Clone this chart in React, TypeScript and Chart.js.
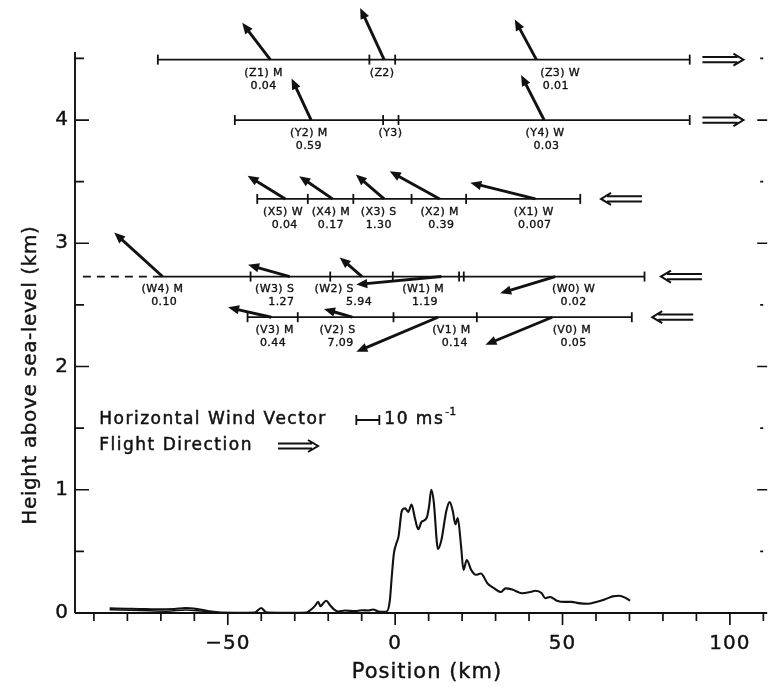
import React, { useEffect, useRef } from 'react';
import { Chart, registerables } from 'chart.js';

Chart.register(...registerables);

const W = 774;
const H = 689;
const FONT = '"DejaVu Sans", "Liberation Sans", sans-serif';
const INK = '#111';

// ---- axes ----
const xMin = -95.65;
const xMax = 111.15;
const yMin = 0;
const yMax = 4.552;
const xTickLabels = [-50, 0, 50, 100];
const xMinorTicks = [-90, -80, -70, -60, -50, -40, -30, -20, -10, 0, 10, 20, 30, 40, 50, 60, 70, 80, 90, 100, 110];
const yTickLabels = [0, 1, 2, 3, 4];
const yMinorTicks = [0.5, 1, 1.5, 2, 2.5, 3, 3.5, 4, 4.5];
const xTitle = 'Position (km)';
const yTitle = 'Height above sea-level (km)';

// ---- terrain profile (km, km) ----
const terrainProfile: [number, number][] = [
  [-85.3, 0.038], [-80, 0.035], [-76.4, 0.033], [-71.5, 0.03], [-66, 0.033], [-62.6, 0.04],
  [-58.7, 0.03], [-54.8, 0.012], [-51.9, 0.003], [-48, 0.002], [-42, 0.004], [-40, 0.04],
  [-38.5, 0.005], [-35, 0.002], [-30, 0.002], [-26.5, 0.004], [-25, 0.03], [-23.9, 0.06],
  [-23, 0.09], [-22.3, 0.055], [-21.9, 0.065], [-20.6, 0.1], [-19.5, 0.065], [-18.3, 0.03],
  [-17, 0.012], [-15, 0.02], [-12, 0.015], [-10, 0.022], [-8, 0.02], [-6.6, 0.028], [-5, 0.012],
  [-3.3, 0.01], [-2.5, 0.012], [-1.6, 0.1], [-1.0, 0.3], [-0.4, 0.48], [0.3, 0.56], [1.0, 0.62],
  [2.0, 0.83], [2.96, 0.85], [3.9, 0.82], [4.9, 0.88], [5.9, 0.77], [6.9, 0.68], [7.9, 0.74],
  [9.4, 0.77], [10.1, 0.86], [10.8, 1.0], [11.5, 0.91], [12.8, 0.52], [13.8, 0.59], [15.3, 0.83],
  [16.3, 0.9], [17.2, 0.83], [18.0, 0.72], [18.7, 0.77], [19.7, 0.54], [20.4, 0.35], [21.4, 0.43],
  [22.7, 0.35], [24.1, 0.31], [25.6, 0.32], [27.6, 0.24], [29.6, 0.2], [31.5, 0.17], [33.0, 0.2],
  [35.0, 0.19], [37.9, 0.16], [40.4, 0.17], [41.9, 0.18], [43.8, 0.16], [44.8, 0.12], [46.3, 0.13],
  [48.3, 0.1], [50.7, 0.09], [52.7, 0.09], [54.7, 0.08], [57.6, 0.075], [60.1, 0.09], [62.6, 0.11],
  [65.0, 0.135], [67.0, 0.14], [69.0, 0.12], [70.2, 0.1],
];
const terrainLowerTrace: [number, number][] = [
  [-85.3, 0.026], [-76, 0.02], [-68, 0.015], [-62.6, 0.024], [-58, 0.016], [-54, 0.006], [-51.5, 0.0],
];

// ---- flight legs ----
const rowNames = ['Z', 'Y', 'X', 'W', 'V'];
const rowHeights = [4.49, 4.0, 3.36, 2.73, 2.4];
const rowBreaks: number[][] = [
  [-70.9, -7.7, 0, 88.0],
  [-47.9, -3.6, 1.0, 88.0],
  [-41.2, -26.1, -12.5, 4.9, 21.2, 55.3],
  [-43.2, -19.4, -0.7, 19.1, 20.5, 74.5],
  [-44.1, -29.1, -0.5, 24.4, 70.7],
];
const rowSolidStart = [null, null, null, -72, null];
const dashedLeg: [number, number] = [-93.3, -72];
const flightDir = [1, 1, -1, -1, -1];
const flightArrowKm = [91.8, 91.8, 61.5, 79.4, 76.8];

// ---- wind vectors: row, km, u (m/s), v (m/s) ----
const windVectors: [string, number, number, number][] = [
  ['Z', -37.3, -12.2, 16.0], ['Z', -3.3, -10.4, 22.5], ['Z', 42.2, -9.4, 17.4],
  ['Y', -25.1, -8.5, 18.1], ['Y', 44.5, -10.0, 19.6],
  ['X', -32.8, -16.4, 10.1], ['X', -18.7, -14.5, 9.9], ['X', -3.3, -12.3, 10.6], ['X', 13.3, -21.7, 12.0], ['X', 41.9, -28.3, 7.0],
  ['W', -69.5, -21.0, 19.1], ['W', -31.5, -18.1, 5.1], ['W', -9.9, -9.7, 8.3], ['W', 13.8, -37.0, -3.5], ['W', 47.8, -23.9, -7.3],
  ['V', -37.0, -18.8, 4.3], ['V', -12.8, -12.3, 3.6], ['V', 12.8, -35.5, -15.0], ['V', 46.9, -29.0, -12.0],
];

// ---- segment labels: row, km, name, km, value ----
const segmentLabels: [string, number, string, number, string][] = [
  ['Z', -39.3, '(Z1) M', -39.3, '0.04'], ['Z', -3.9, '(Z2)', -3.9, ''], ['Z', 49.3, '(Z3) W', 48.0, '0.01'],
  ['Y', -25.8, '(Y2) M', -25.8, '0.59'], ['Y', -1.4, '(Y3)', -1.4, ''], ['Y', 44.8, '(Y4) W', 45.2, '0.03'],
  ['X', -33.5, '(X5) W', -33.0, '0.04'], ['X', -19.2, '(X4) M', -19.2, '0.17'], ['X', -4.9, '(X3) S', -4.9, '1.30'],
  ['X', 13.3, '(X2) M', 13.8, '0.39'], ['X', 41.4, '(X1) W', 41.7, '0.007'],
  ['W', -69.5, '(W4) M', -69.0, '0.10'], ['W', -36.0, '(W3) S', -34.0, '1.27'], ['W', -18.2, '(W2) S', -10.8, '5.94'],
  ['W', 8.4, '(W1) M', 8.9, '1.19'], ['W', 53.3, '(W0) W', 53.3, '0.02'],
  ['V', -36.0, '(V3) M', -36.5, '0.44'], ['V', -17.2, '(V2) S', -16.3, '7.09'], ['V', 16.8, '(V1) M', 17.8, '0.14'],
  ['V', 52.8, '(V0) M', 53.3, '0.05'],
];

// ---- legend ----
const legendLines = ['Horizontal Wind Vector', 'Flight Direction'];
const scaleBarMs = 10;
const scaleBarText = '10 ms';
const scaleBarSup = '-1';

// style constants
const PX_PER_MS = 2.3;

function heavyText(ctx: CanvasRenderingContext2D, t: string, x: number, y: number, w = 0.5) {
  ctx.lineWidth = w;
  ctx.strokeText(t, x, y);
  ctx.fillText(t, x, y);
}

function drawArrow(ctx: CanvasRenderingContext2D, x0: number, y0: number, x1: number, y1: number) {
  const head = 11;
  const half = 4.6;
  const ang = Math.atan2(y1 - y0, x1 - x0);
  const c = Math.cos(ang);
  const s = Math.sin(ang);
  const hx = x1 - head * c;
  const hy = y1 - head * s;
  ctx.beginPath();
  ctx.lineWidth = 2.9;
  ctx.lineCap = 'butt';
  ctx.moveTo(x0, y0);
  ctx.lineTo(hx + c * 1, hy + s * 1);
  ctx.stroke();
  ctx.beginPath();
  ctx.moveTo(x1, y1);
  ctx.lineTo(hx - s * half, hy + c * half);
  ctx.lineTo(hx + s * half, hy - c * half);
  ctx.closePath();
  ctx.fill();
}

function drawDoubleArrow(ctx: CanvasRenderingContext2D, xLeft: number, y: number, len: number, dir: number) {
  const tip = dir > 0 ? xLeft + len : xLeft;
  const tail = dir > 0 ? xLeft : xLeft + len;
  ctx.lineWidth = 2;
  ctx.lineJoin = 'miter';
  ctx.beginPath();
  ctx.moveTo(tail, y - 2.6);
  ctx.lineTo(tip - dir * 6, y - 2.6);
  ctx.moveTo(tail, y + 2.6);
  ctx.lineTo(tip - dir * 6, y + 2.6);
  ctx.moveTo(tip - dir * 10, y - 6);
  ctx.lineTo(tip, y);
  ctx.lineTo(tip - dir * 10, y + 6);
  ctx.stroke();
}

const axesPlugin = {
  id: 'axesPlugin',
  beforeDraw(chart: any) {
    const ctx = chart.ctx;
    ctx.save();
    ctx.fillStyle = '#fff';
    ctx.fillRect(0, 0, chart.width, chart.height);
    ctx.restore();
  },
  afterDatasetsDraw(chart: any) {
    const ctx: CanvasRenderingContext2D = chart.ctx;
    const xs = chart.scales.x;
    const ys = chart.scales.y;
    const a = chart.chartArea;
    ctx.save();
    ctx.strokeStyle = INK;
    ctx.fillStyle = INK;
    ctx.lineWidth = 1.9;
    ctx.beginPath();
    ctx.moveTo(a.left, a.bottom);
    ctx.lineTo(a.right, a.bottom);
    ctx.moveTo(a.left, a.bottom);
    ctx.lineTo(a.left, a.top);
    ctx.stroke();
    ctx.lineWidth = 1.7;
    for (const v of xMinorTicks) {
      const px = xs.getPixelForValue(v);
      const len = xTickLabels.includes(v) ? 12 : 8;
      ctx.beginPath();
      ctx.moveTo(px, a.bottom);
      ctx.lineTo(px, a.bottom + len);
      ctx.stroke();
    }
    for (const v of yMinorTicks) {
      const py = ys.getPixelForValue(v);
      const major = Number.isInteger(v);
      ctx.beginPath();
      ctx.moveTo(a.left, py);
      ctx.lineTo(a.left + (major ? 14 : 9), py);
      if (major) {
        ctx.moveTo(a.right - 10, py);
        ctx.lineTo(a.right, py);
      } else {
        ctx.moveTo(a.right - 7, py);
        ctx.lineTo(a.right - 4, py);
      }
      ctx.stroke();
    }
    ctx.font = `20px ${FONT}`;
    ctx.textAlign = 'center';
    ctx.textBaseline = 'middle';
    (ctx as any).letterSpacing = '1px';
    for (const v of xTickLabels) {
      const px = xs.getPixelForValue(v);
      heavyText(ctx, v < 0 ? '\u2212' + Math.abs(v) : String(v), px, a.bottom + 31, 0.4);
    }
    ctx.textAlign = 'right';
    (ctx as any).letterSpacing = '0px';
    for (const v of yTickLabels) {
      heavyText(ctx, String(v), a.left - 7, ys.getPixelForValue(v), 0.4);
    }
    ctx.font = `21px ${FONT}`;
    (ctx as any).letterSpacing = '1px';
    ctx.textAlign = 'center';
    heavyText(ctx, xTitle, xs.getPixelForValue(9.5), a.bottom + 60, 0.4);
    ctx.save();
    ctx.translate(31, ys.getPixelForValue(1.93));
    ctx.rotate(-Math.PI / 2);
    ctx.font = `20px ${FONT}`;
    (ctx as any).letterSpacing = '0.6px';
    heavyText(ctx, yTitle, 0, 0, 0.4);
    ctx.restore();
    ctx.restore();
  },
};

const annotationPlugin = {
  id: 'annotationPlugin',
  afterDatasetsDraw(chart: any) {
    const ctx: CanvasRenderingContext2D = chart.ctx;
    const xs = chart.scales.x;
    const ys = chart.scales.y;
    ctx.save();
    ctx.strokeStyle = INK;
    ctx.fillStyle = INK;
    for (const [row, km, u, v] of windVectors) {
      const h = rowHeights[rowNames.indexOf(row)];
      const x0 = xs.getPixelForValue(km);
      const y0 = ys.getPixelForValue(h);
      drawArrow(ctx, x0, y0, x0 + u * PX_PER_MS, y0 - v * PX_PER_MS);
    }
    rowNames.forEach((_, i) => {
      drawDoubleArrow(ctx, xs.getPixelForValue(flightArrowKm[i]), ys.getPixelForValue(rowHeights[i]), 41, flightDir[i]);
    });
    ctx.font = `11px ${FONT}`;
    (ctx as any).letterSpacing = '0.4px';
    ctx.textAlign = 'center';
    ctx.textBaseline = 'middle';
    for (const [row, km1, name, km2, val] of segmentLabels) {
      const py = ys.getPixelForValue(rowHeights[rowNames.indexOf(row)]);
      heavyText(ctx, name, xs.getPixelForValue(km1), py + 13, 0.35);
      if (val) heavyText(ctx, val, xs.getPixelForValue(km2), py + 26, 0.35);
    }
    ctx.font = `17px ${FONT}`;
    (ctx as any).letterSpacing = '1.5px';
    ctx.textAlign = 'left';
    const lx = xs.getPixelForValue(-88.4);
    const ly1 = ys.getPixelForValue(1.566);
    const ly2 = ys.getPixelForValue(1.355);
    heavyText(ctx, legendLines[0], lx, ly1, 0.5);
    heavyText(ctx, legendLines[1], lx, ly2, 0.5);
    const bx = xs.getPixelForValue(-11.6);
    const bLen = scaleBarMs * PX_PER_MS;
    ctx.lineWidth = 1.8;
    ctx.beginPath();
    ctx.moveTo(bx, ly1);
    ctx.lineTo(bx + bLen, ly1);
    ctx.moveTo(bx, ly1 - 5);
    ctx.lineTo(bx, ly1 + 5);
    ctx.moveTo(bx + bLen, ly1 - 5);
    ctx.lineTo(bx + bLen, ly1 + 5);
    ctx.stroke();
    heavyText(ctx, scaleBarText, bx + bLen + 5, ly1, 0.5);
    const tw = ctx.measureText(scaleBarText).width;
    ctx.font = `11px ${FONT}`;
    (ctx as any).letterSpacing = '0px';
    heavyText(ctx, scaleBarSup, bx + bLen + 5 + tw + 1, ly1 - 8, 0.3);
    drawDoubleArrow(ctx, xs.getPixelForValue(-35.0), ly2, 40, 1);
    ctx.restore();
  },
};

export default function App() {
  const ref = useRef<HTMLCanvasElement>(null);
  useEffect(() => {
    const canvas = ref.current;
    if (!canvas) return;
    const rowDatasets = rowNames.map((name, i) => {
      const pts = rowBreaks[i].map((x) => ({ x, y: rowHeights[i] }));
      const radii = rowBreaks[i].map(() => 5);
      const start = rowSolidStart[i];
      if (start !== null) {
        pts.unshift({ x: start, y: rowHeights[i] });
        radii.unshift(0);
      }
      return {
        label: `Leg ${name}`,
        data: pts,
        borderColor: INK,
        borderWidth: 1.8,
        pointStyle: 'line' as const,
        rotation: 90,
        pointRadius: radii,
        pointBorderWidth: 1.8,
        pointBorderColor: INK,
        showLine: true,
        fill: false,
        clip: false as any,
      };
    });
    const wIndex = rowNames.indexOf('W');
    const chart = new Chart(canvas, {
      type: 'line',
      data: {
        datasets: [
          {
            label: 'Terrain',
            data: terrainProfile.map(([x, y]) => ({ x, y })),
            borderColor: INK,
            borderWidth: 2.1,
            pointRadius: 0,
            cubicInterpolationMode: 'monotone',
            fill: false,
          },
          {
            label: 'Terrain (lower trace)',
            data: terrainLowerTrace.map(([x, y]) => ({ x, y })),
            borderColor: INK,
            borderWidth: 1.5,
            pointRadius: 0,
            cubicInterpolationMode: 'monotone',
            fill: false,
          },
          ...rowDatasets,
          {
            label: 'Leg W (dashed)',
            data: dashedLeg.map((x) => ({ x, y: rowHeights[wIndex] })),
            borderColor: INK,
            borderWidth: 1.8,
            borderDash: [8, 6],
            pointRadius: 0,
            fill: false,
          },
        ] as any,
      },
      options: {
        responsive: false,
        devicePixelRatio: 1,
        animation: false,
        layout: { padding: { left: 75, right: 0, top: 52, bottom: H - 613 } },
        plugins: { legend: { display: false }, tooltip: { enabled: false } },
        events: [],
        scales: {
          x: { type: 'linear', display: false, min: xMin, max: xMax },
          y: { type: 'linear', display: false, min: yMin, max: yMax },
        },
      },
      plugins: [axesPlugin, annotationPlugin],
    });
    return () => chart.destroy();
  }, []);
  return (
    <div style={{ position: 'fixed', left: 0, top: 0, width: W, height: H, background: '#fff' }}>
      <canvas ref={ref} width={W} height={H} style={{ display: 'block', width: W, height: H }} />
    </div>
  );
}
